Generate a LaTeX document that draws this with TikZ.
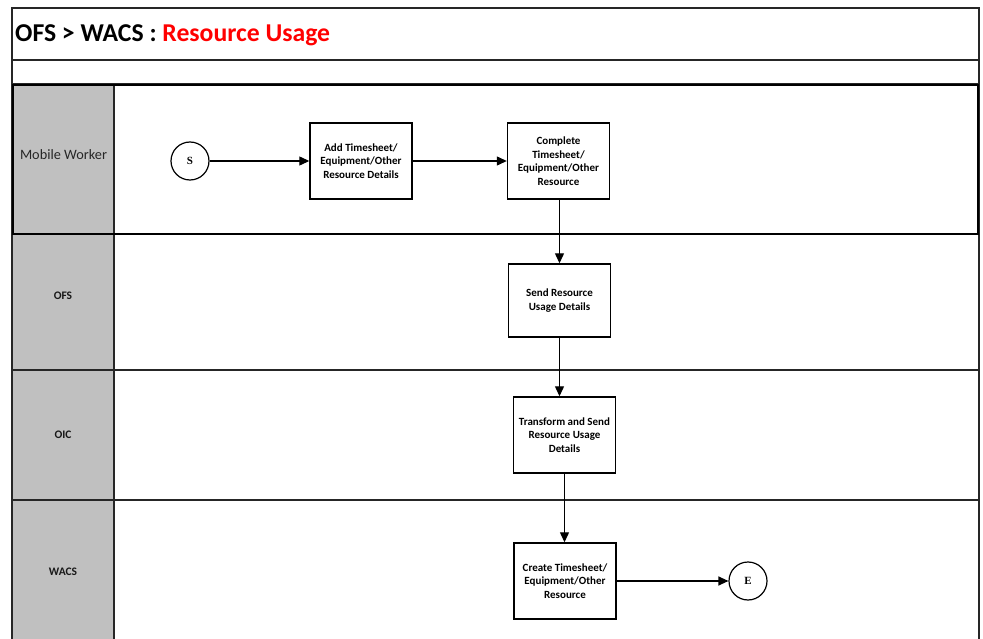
\documentclass[tikz,border=0pt]{standalone}
\usepackage{fontspec}
\setmainfont{Carlito}
\newfontfamily\serifb{Liberation Serif}
\usetikzlibrary{arrows.meta}
\definecolor{lanegray}{HTML}{C0C0C0}
\definecolor{titlered}{HTML}{FF0000}
\begin{document}
\begin{tikzpicture}[x=1pt,y=-1pt,
  frame/.style={draw=black!85,line width=1.3pt},
  procbox/.style={draw=black,line width=1.4pt,fill=white,minimum width=102pt,minimum height=76pt,align=center,inner sep=1pt,font=\fontsize{11}{13.5}\selectfont\bfseries},
  endpt/.style={draw=black,line width=1.2pt,circle,minimum size=38pt,inner sep=0pt,font=\serifb\fontsize{11}{12}\selectfont\bfseries},
  lanelbl/.style={font=\fontsize{11.5}{13}\selectfont\bfseries,text=black!90},
  flow/.style={draw=black,line width=1.2pt,-{Triangle[length=10pt,width=9pt]}}
]
\useasboundingbox (0,0) rectangle (983,639);
\fill[white] (0,0) rectangle (983,639);
% lane label column
\fill[lanegray] (12,85) rectangle (114,639);
% frame
\draw[frame] (12,639) -- (12,8) -- (979,8) -- (979,639);
\draw[frame] (12,60) -- (979,60);
\draw[frame] (12,84) -- (979,84);
\draw[frame] (12,234) -- (979,234);
\draw[frame] (12,370) -- (979,370);
\draw[frame] (12,500) -- (979,500);
\draw[frame] (114,85) -- (114,639);
\draw[black,line width=2.2pt] (13,85) rectangle (978,234);
% title
\node[anchor=west,inner sep=0pt,font=\fontsize{25.7}{30}\selectfont\bfseries] (title) at (15,35.5) {OFS > WACS : \textcolor{titlered}{Resource Usage}};
% lane labels
\node[font=\fontsize{14.3}{16}\selectfont,text=black!85] (lmw) at (63.5,155) {Mobile Worker};
\node[lanelbl] (lofs) at (63,296) {OFS};
\node[lanelbl] (loic) at (63,435) {OIC};
\node[lanelbl] (lwacs) at (63,572) {WACS};
% nodes
\node[endpt] (s) at (190,161) {S};
\node[procbox] (add) at (361,161) {Add Timesheet/\\Equipment/Other\\Resource Details};
\node[procbox] (complete) at (558.5,161) {Complete\\Timesheet/\\Equipment/Other\\Resource};
\node[procbox,minimum height=73pt] (send) at (559.5,300.5) {Send Resource\\Usage Details};
\node[procbox] (transform) at (564.5,435) {Transform and Send\\Resource Usage\\Details};
\node[procbox] (create) at (565,581) {Create Timesheet/\\Equipment/Other\\Resource};
\node[endpt] (e) at (748,581) {E};
% connectors
\draw[flow] (s) -- (add);
\draw[flow] (add) -- (complete);
\draw[flow] (complete.south -| send.north) -- (send.north);
\draw[flow] (send.south) -- (send.south |- transform.north);
\draw[flow] (transform.south) -- (transform.south |- create.north);
\draw[flow] (create) -- (e);
\end{tikzpicture}
\end{document}
